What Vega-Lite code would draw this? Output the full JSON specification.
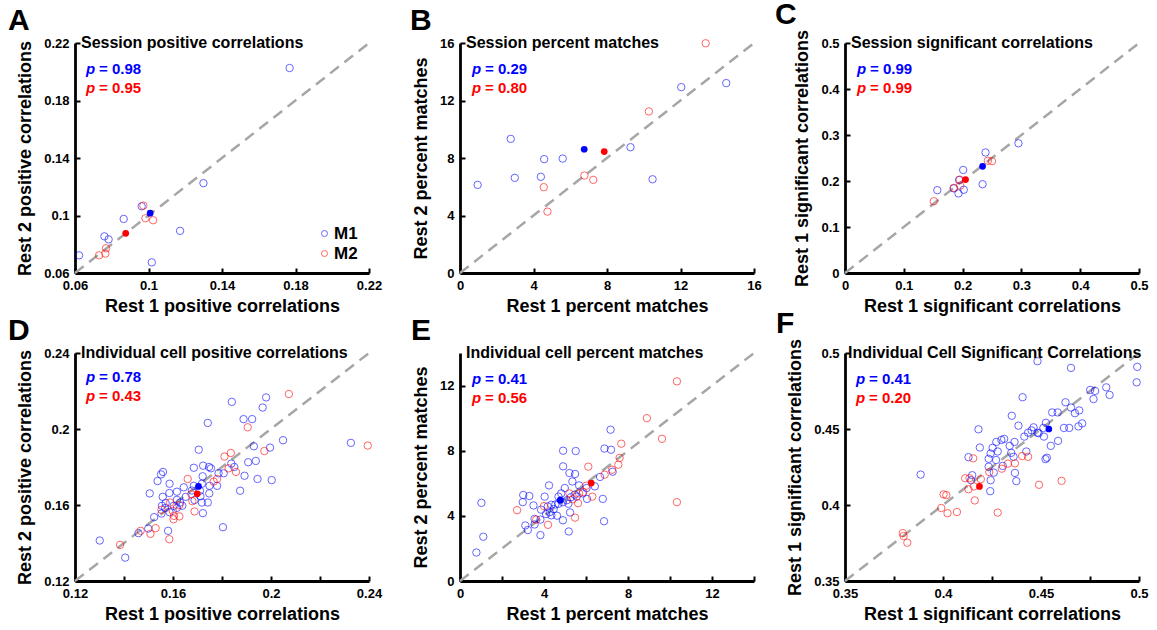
{
"$schema":"https://vega.github.io/schema/vega-lite/v6.json",
"padding":{"left":8,"top":0,"right":0,"bottom":0},
"config":{
 "view":{"stroke":null},
 "font":"Liberation Sans",
 "axis":{"grid":false,"domainColor":"#000","domainWidth":2.8,"tickColor":"#000","tickWidth":2,"tickSize":-5,"labelFont":"Liberation Sans","labelFontSize":13,"labelFontWeight":"bold","labelColor":"#000","labelPadding":11,"labelFlush":false,"labelOverlap":false,"titleFont":"Liberation Sans","titleFontSize":18,"titleFontWeight":"bold","titleColor":"#000"},
 "axisY":{"titlePadding":9},
 "axisX":{"titlePadding":5},
 "title":{"font":"Liberation Sans","fontSize":30,"fontWeight":"bold","color":"#000","anchor":"start","frame":"group","offset":-1}
},
"resolve":{"scale":{"color":"independent"},"legend":{"color":"independent"}},
"bounds":"flush",
"spacing":{"row":80,"column":91},
"columns":3,
"datasets":{
"A":[
{"monkey":"M1","kind":"cell","rest1":0.1768,"rest2":0.2026},
{"monkey":"M1","kind":"cell","rest1":0.1299,"rest2":0.1225},
{"monkey":"M1","kind":"cell","rest1":0.0963,"rest2":0.1064},
{"monkey":"M1","kind":"cell","rest1":0.0865,"rest2":0.0976},
{"monkey":"M1","kind":"cell","rest1":0.1172,"rest2":0.0893},
{"monkey":"M1","kind":"cell","rest1":0.076,"rest2":0.0855},
{"monkey":"M1","kind":"cell","rest1":0.0783,"rest2":0.0834},
{"monkey":"M1","kind":"cell","rest1":0.0622,"rest2":0.0723},
{"monkey":"M1","kind":"cell","rest1":0.1018,"rest2":0.0674},
{"monkey":"M2","kind":"cell","rest1":0.0972,"rest2":0.1069},
{"monkey":"M2","kind":"cell","rest1":0.0983,"rest2":0.0981},
{"monkey":"M2","kind":"cell","rest1":0.1025,"rest2":0.0967},
{"monkey":"M2","kind":"cell","rest1":0.0769,"rest2":0.0772},
{"monkey":"M2","kind":"cell","rest1":0.0765,"rest2":0.0735},
{"monkey":"M2","kind":"cell","rest1":0.0731,"rest2":0.0723},
{"monkey":"M1","kind":"mean","rest1":0.1009,"rest2":0.1016},
{"monkey":"M2","kind":"mean","rest1":0.0876,"rest2":0.0876}],
"B":[
{"monkey":"M1","kind":"cell","rest1":14.49,"rest2":13.21},
{"monkey":"M1","kind":"cell","rest1":12.04,"rest2":12.93},
{"monkey":"M1","kind":"cell","rest1":9.28,"rest2":8.75},
{"monkey":"M1","kind":"cell","rest1":2.76,"rest2":9.33},
{"monkey":"M1","kind":"cell","rest1":4.58,"rest2":7.92},
{"monkey":"M1","kind":"cell","rest1":5.59,"rest2":7.96},
{"monkey":"M1","kind":"cell","rest1":2.98,"rest2":6.62},
{"monkey":"M1","kind":"cell","rest1":4.40,"rest2":6.69},
{"monkey":"M1","kind":"cell","rest1":0.96,"rest2":6.13},
{"monkey":"M1","kind":"cell","rest1":10.48,"rest2":6.52},
{"monkey":"M2","kind":"cell","rest1":13.37,"rest2":15.98},
{"monkey":"M2","kind":"cell","rest1":10.28,"rest2":11.24},
{"monkey":"M2","kind":"cell","rest1":6.77,"rest2":6.78},
{"monkey":"M2","kind":"cell","rest1":7.25,"rest2":6.48},
{"monkey":"M2","kind":"cell","rest1":4.56,"rest2":5.97},
{"monkey":"M2","kind":"cell","rest1":4.76,"rest2":4.27},
{"monkey":"M1","kind":"mean","rest1":6.76,"rest2":8.61},
{"monkey":"M2","kind":"mean","rest1":7.85,"rest2":8.45}],
"C":[
{"monkey":"M1","kind":"cell","rest1":0.295,"rest2":0.282},
{"monkey":"M1","kind":"cell","rest1":0.239,"rest2":0.262},
{"monkey":"M1","kind":"cell","rest1":0.201,"rest2":0.224},
{"monkey":"M1","kind":"cell","rest1":0.234,"rest2":0.193},
{"monkey":"M1","kind":"cell","rest1":0.194,"rest2":0.202},
{"monkey":"M1","kind":"cell","rest1":0.202,"rest2":0.181},
{"monkey":"M1","kind":"cell","rest1":0.193,"rest2":0.173},
{"monkey":"M1","kind":"cell","rest1":0.157,"rest2":0.180},
{"monkey":"M1","kind":"cell","rest1":0.185,"rest2":0.184},
{"monkey":"M2","kind":"cell","rest1":0.243,"rest2":0.244},
{"monkey":"M2","kind":"cell","rest1":0.250,"rest2":0.243},
{"monkey":"M2","kind":"cell","rest1":0.195,"rest2":0.203},
{"monkey":"M2","kind":"cell","rest1":0.196,"rest2":0.190},
{"monkey":"M2","kind":"cell","rest1":0.185,"rest2":0.185},
{"monkey":"M2","kind":"cell","rest1":0.151,"rest2":0.156},
{"monkey":"M1","kind":"mean","rest1":0.234,"rest2":0.232},
{"monkey":"M2","kind":"mean","rest1":0.205,"rest2":0.203}],
"D":[
{"monkey":"M1","kind":"cell","rest1":0.184,"rest2":0.2143},
{"monkey":"M1","kind":"cell","rest1":0.198,"rest2":0.2166},
{"monkey":"M1","kind":"cell","rest1":0.1966,"rest2":0.2113},
{"monkey":"M1","kind":"cell","rest1":0.1888,"rest2":0.2052},
{"monkey":"M1","kind":"cell","rest1":0.1923,"rest2":0.2052},
{"monkey":"M1","kind":"cell","rest1":0.1742,"rest2":0.2032},
{"monkey":"M1","kind":"cell","rest1":0.2049,"rest2":0.1941},
{"monkey":"M1","kind":"cell","rest1":0.1996,"rest2":0.1902},
{"monkey":"M1","kind":"cell","rest1":0.193,"rest2":0.1909},
{"monkey":"M1","kind":"cell","rest1":0.2326,"rest2":0.1927},
{"monkey":"M1","kind":"cell","rest1":0.1705,"rest2":0.1891},
{"monkey":"M1","kind":"cell","rest1":0.1907,"rest2":0.1825},
{"monkey":"M1","kind":"cell","rest1":0.1938,"rest2":0.1832},
{"monkey":"M1","kind":"cell","rest1":0.1838,"rest2":0.1818},
{"monkey":"M1","kind":"cell","rest1":0.185,"rest2":0.18},
{"monkey":"M1","kind":"cell","rest1":0.1723,"rest2":0.1807},
{"monkey":"M1","kind":"cell","rest1":0.1747,"rest2":0.18},
{"monkey":"M1","kind":"cell","rest1":0.1755,"rest2":0.1793},
{"monkey":"M1","kind":"cell","rest1":0.1685,"rest2":0.1796},
{"monkey":"M1","kind":"cell","rest1":0.1807,"rest2":0.1767},
{"monkey":"M1","kind":"cell","rest1":0.1786,"rest2":0.1767},
{"monkey":"M1","kind":"cell","rest1":0.1892,"rest2":0.1754},
{"monkey":"M1","kind":"cell","rest1":0.1945,"rest2":0.1737},
{"monkey":"M1","kind":"cell","rest1":0.2003,"rest2":0.1731},
{"monkey":"M1","kind":"cell","rest1":0.1551,"rest2":0.1761},
{"monkey":"M1","kind":"cell","rest1":0.1559,"rest2":0.1774},
{"monkey":"M1","kind":"cell","rest1":0.1537,"rest2":0.1726},
{"monkey":"M1","kind":"cell","rest1":0.1586,"rest2":0.1712},
{"monkey":"M1","kind":"cell","rest1":0.1505,"rest2":0.1661},
{"monkey":"M1","kind":"cell","rest1":0.1558,"rest2":0.1643},
{"monkey":"M1","kind":"cell","rest1":0.1585,"rest2":0.1663},
{"monkey":"M1","kind":"cell","rest1":0.1644,"rest2":0.1693},
{"monkey":"M1","kind":"cell","rest1":0.1685,"rest2":0.1701},
{"monkey":"M1","kind":"cell","rest1":0.1718,"rest2":0.1712},
{"monkey":"M1","kind":"cell","rest1":0.1721,"rest2":0.1751},
{"monkey":"M1","kind":"cell","rest1":0.1749,"rest2":0.1701},
{"monkey":"M1","kind":"cell","rest1":0.178,"rest2":0.1701},
{"monkey":"M1","kind":"cell","rest1":0.1748,"rest2":0.1661},
{"monkey":"M1","kind":"cell","rest1":0.171,"rest2":0.1675},
{"monkey":"M1","kind":"cell","rest1":0.1874,"rest2":0.1675},
{"monkey":"M1","kind":"cell","rest1":0.1616,"rest2":0.167},
{"monkey":"M1","kind":"cell","rest1":0.1652,"rest2":0.1643},
{"monkey":"M1","kind":"cell","rest1":0.1688,"rest2":0.1626},
{"monkey":"M1","kind":"cell","rest1":0.1718,"rest2":0.1613},
{"monkey":"M1","kind":"cell","rest1":0.1742,"rest2":0.1613},
{"monkey":"M1","kind":"cell","rest1":0.1616,"rest2":0.1627},
{"monkey":"M1","kind":"cell","rest1":0.1555,"rest2":0.1596},
{"monkey":"M1","kind":"cell","rest1":0.1568,"rest2":0.1584},
{"monkey":"M1","kind":"cell","rest1":0.1603,"rest2":0.1596},
{"monkey":"M1","kind":"cell","rest1":0.1638,"rest2":0.1596},
{"monkey":"M1","kind":"cell","rest1":0.1629,"rest2":0.1613},
{"monkey":"M1","kind":"cell","rest1":0.1586,"rest2":0.1562},
{"monkey":"M1","kind":"cell","rest1":0.1553,"rest2":0.1555},
{"monkey":"M1","kind":"cell","rest1":0.1523,"rest2":0.1536},
{"monkey":"M1","kind":"cell","rest1":0.1722,"rest2":0.1557},
{"monkey":"M1","kind":"cell","rest1":0.158,"rest2":0.1464},
{"monkey":"M1","kind":"cell","rest1":0.1804,"rest2":0.1483},
{"monkey":"M1","kind":"cell","rest1":0.1499,"rest2":0.1476},
{"monkey":"M1","kind":"cell","rest1":0.1459,"rest2":0.1452},
{"monkey":"M1","kind":"cell","rest1":0.1301,"rest2":0.1413},
{"monkey":"M1","kind":"cell","rest1":0.1405,"rest2":0.1323},
{"monkey":"M1","kind":"cell","rest1":0.157,"rest2":0.161},
{"monkey":"M1","kind":"cell","rest1":0.1616,"rest2":0.1585},
{"monkey":"M1","kind":"cell","rest1":0.1677,"rest2":0.1676},
{"monkey":"M1","kind":"cell","rest1":0.1712,"rest2":0.1646},
{"monkey":"M2","kind":"cell","rest1":0.2073,"rest2":0.2184},
{"monkey":"M2","kind":"cell","rest1":0.1905,"rest2":0.2009},
{"monkey":"M2","kind":"cell","rest1":0.2395,"rest2":0.1913},
{"monkey":"M2","kind":"cell","rest1":0.1973,"rest2":0.1884},
{"monkey":"M2","kind":"cell","rest1":0.1836,"rest2":0.1874},
{"monkey":"M2","kind":"cell","rest1":0.181,"rest2":0.1855},
{"monkey":"M2","kind":"cell","rest1":0.1827,"rest2":0.1793},
{"monkey":"M2","kind":"cell","rest1":0.1857,"rest2":0.1774},
{"monkey":"M2","kind":"cell","rest1":0.178,"rest2":0.1737},
{"monkey":"M2","kind":"cell","rest1":0.1766,"rest2":0.1723},
{"monkey":"M2","kind":"cell","rest1":0.166,"rest2":0.1737},
{"monkey":"M2","kind":"cell","rest1":0.1679,"rest2":0.162},
{"monkey":"M2","kind":"cell","rest1":0.1688,"rest2":0.1566},
{"monkey":"M2","kind":"cell","rest1":0.1599,"rest2":0.1569},
{"monkey":"M2","kind":"cell","rest1":0.1604,"rest2":0.1543},
{"monkey":"M2","kind":"cell","rest1":0.1626,"rest2":0.154},
{"monkey":"M2","kind":"cell","rest1":0.1602,"rest2":0.1525},
{"monkey":"M2","kind":"cell","rest1":0.1588,"rest2":0.1613},
{"monkey":"M2","kind":"cell","rest1":0.1626,"rest2":0.1599},
{"monkey":"M2","kind":"cell","rest1":0.1529,"rest2":0.1478},
{"monkey":"M2","kind":"cell","rest1":0.1508,"rest2":0.1448},
{"monkey":"M2","kind":"cell","rest1":0.1468,"rest2":0.1464},
{"monkey":"M2","kind":"cell","rest1":0.1585,"rest2":0.142},
{"monkey":"M2","kind":"cell","rest1":0.1384,"rest2":0.139},
{"monkey":"M2","kind":"cell","rest1":0.1553,"rest2":0.1575},
{"monkey":"M2","kind":"cell","rest1":0.1675,"rest2":0.1657},
{"monkey":"M1","kind":"mean","rest1":0.1704,"rest2":0.1698},
{"monkey":"M2","kind":"mean","rest1":0.1699,"rest2":0.1659}],
"E":[
{"monkey":"M1","kind":"cell","rest1":7.17,"rest2":9.29},
{"monkey":"M1","kind":"cell","rest1":6.88,"rest2":8.13},
{"monkey":"M1","kind":"cell","rest1":7.19,"rest2":8.06},
{"monkey":"M1","kind":"cell","rest1":4.91,"rest2":8.0},
{"monkey":"M1","kind":"cell","rest1":5.51,"rest2":7.98},
{"monkey":"M1","kind":"cell","rest1":4.91,"rest2":7.04},
{"monkey":"M1","kind":"cell","rest1":5.21,"rest2":6.63},
{"monkey":"M1","kind":"cell","rest1":5.48,"rest2":6.57},
{"monkey":"M1","kind":"cell","rest1":7.27,"rest2":6.71},
{"monkey":"M1","kind":"cell","rest1":6.67,"rest2":6.39},
{"monkey":"M1","kind":"cell","rest1":4.24,"rest2":5.87},
{"monkey":"M1","kind":"cell","rest1":5.35,"rest2":6.11},
{"monkey":"M1","kind":"cell","rest1":4.99,"rest2":5.71},
{"monkey":"M1","kind":"cell","rest1":6.42,"rest2":5.81},
{"monkey":"M1","kind":"cell","rest1":3.01,"rest2":5.28},
{"monkey":"M1","kind":"cell","rest1":3.30,"rest2":5.22},
{"monkey":"M1","kind":"cell","rest1":2.99,"rest2":4.84},
{"monkey":"M1","kind":"cell","rest1":1.02,"rest2":4.80},
{"monkey":"M1","kind":"cell","rest1":3.50,"rest2":4.64},
{"monkey":"M1","kind":"cell","rest1":4.03,"rest2":5.18},
{"monkey":"M1","kind":"cell","rest1":4.69,"rest2":5.18},
{"monkey":"M1","kind":"cell","rest1":6.80,"rest2":5.04},
{"monkey":"M1","kind":"cell","rest1":3.86,"rest2":4.38},
{"monkey":"M1","kind":"cell","rest1":4.18,"rest2":4.58},
{"monkey":"M1","kind":"cell","rest1":4.46,"rest2":4.42},
{"monkey":"M1","kind":"cell","rest1":4.69,"rest2":4.74},
{"monkey":"M1","kind":"cell","rest1":4.90,"rest2":4.84},
{"monkey":"M1","kind":"cell","rest1":5.09,"rest2":4.96},
{"monkey":"M1","kind":"cell","rest1":5.27,"rest2":5.14},
{"monkey":"M1","kind":"cell","rest1":5.56,"rest2":5.18},
{"monkey":"M1","kind":"cell","rest1":5.84,"rest2":5.38},
{"monkey":"M1","kind":"cell","rest1":6.03,"rest2":5.71},
{"monkey":"M1","kind":"cell","rest1":5.67,"rest2":5.87},
{"monkey":"M1","kind":"cell","rest1":5.16,"rest2":4.74},
{"monkey":"M1","kind":"cell","rest1":5.24,"rest2":4.21},
{"monkey":"M1","kind":"cell","rest1":4.90,"rest2":3.73},
{"monkey":"M1","kind":"cell","rest1":4.10,"rest2":4.11},
{"monkey":"M1","kind":"cell","rest1":4.35,"rest2":4.03},
{"monkey":"M1","kind":"cell","rest1":4.62,"rest2":4.01},
{"monkey":"M1","kind":"cell","rest1":3.83,"rest2":3.77},
{"monkey":"M1","kind":"cell","rest1":3.55,"rest2":3.81},
{"monkey":"M1","kind":"cell","rest1":3.11,"rest2":3.41},
{"monkey":"M1","kind":"cell","rest1":3.23,"rest2":3.13},
{"monkey":"M1","kind":"cell","rest1":3.55,"rest2":3.47},
{"monkey":"M1","kind":"cell","rest1":3.83,"rest2":2.82},
{"monkey":"M1","kind":"cell","rest1":5.18,"rest2":3.04},
{"monkey":"M1","kind":"cell","rest1":6.86,"rest2":3.67},
{"monkey":"M1","kind":"cell","rest1":1.11,"rest2":2.72},
{"monkey":"M1","kind":"cell","rest1":0.78,"rest2":1.75},
{"monkey":"M1","kind":"cell","rest1":4.35,"rest2":4.68},
{"monkey":"M1","kind":"cell","rest1":5.46,"rest2":5.30},
{"monkey":"M1","kind":"cell","rest1":4.82,"rest2":5.38},
{"monkey":"M1","kind":"cell","rest1":4.54,"rest2":4.70},
{"monkey":"M1","kind":"cell","rest1":6.05,"rest2":5.04},
{"monkey":"M1","kind":"cell","rest1":4.27,"rest2":4.23},
{"monkey":"M2","kind":"cell","rest1":10.33,"rest2":12.26},
{"monkey":"M2","kind":"cell","rest1":8.90,"rest2":10.0},
{"monkey":"M2","kind":"cell","rest1":9.62,"rest2":8.73},
{"monkey":"M2","kind":"cell","rest1":7.68,"rest2":8.43},
{"monkey":"M2","kind":"cell","rest1":7.60,"rest2":7.56},
{"monkey":"M2","kind":"cell","rest1":7.54,"rest2":7.14},
{"monkey":"M2","kind":"cell","rest1":7.24,"rest2":6.83},
{"monkey":"M2","kind":"cell","rest1":6.89,"rest2":6.53},
{"monkey":"M2","kind":"cell","rest1":6.11,"rest2":7.02},
{"monkey":"M2","kind":"cell","rest1":6.30,"rest2":5.18},
{"monkey":"M2","kind":"cell","rest1":6.01,"rest2":5.85},
{"monkey":"M2","kind":"cell","rest1":5.67,"rest2":5.38},
{"monkey":"M2","kind":"cell","rest1":5.62,"rest2":4.78},
{"monkey":"M2","kind":"cell","rest1":5.37,"rest2":5.02},
{"monkey":"M2","kind":"cell","rest1":5.21,"rest2":5.38},
{"monkey":"M2","kind":"cell","rest1":4.00,"rest2":4.60},
{"monkey":"M2","kind":"cell","rest1":2.72,"rest2":4.35},
{"monkey":"M2","kind":"cell","rest1":4.19,"rest2":3.45},
{"monkey":"M2","kind":"cell","rest1":5.48,"rest2":3.89},
{"monkey":"M2","kind":"cell","rest1":10.33,"rest2":4.84},
{"monkey":"M2","kind":"cell","rest1":3.63,"rest2":3.77},
{"monkey":"M2","kind":"cell","rest1":5.87,"rest2":5.46},
{"monkey":"M1","kind":"mean","rest1":4.77,"rest2":4.96},
{"monkey":"M2","kind":"mean","rest1":6.25,"rest2":6.01}],
"F":[
{"monkey":"M1","kind":"cell","rest1":0.4482,"rest2":0.4946},
{"monkey":"M1","kind":"cell","rest1":0.4653,"rest2":0.4902},
{"monkey":"M1","kind":"cell","rest1":0.4991,"rest2":0.4909},
{"monkey":"M1","kind":"cell","rest1":0.4988,"rest2":0.4807},
{"monkey":"M1","kind":"cell","rest1":0.4751,"rest2":0.4757},
{"monkey":"M1","kind":"cell","rest1":0.4776,"rest2":0.475},
{"monkey":"M1","kind":"cell","rest1":0.4833,"rest2":0.4774},
{"monkey":"M1","kind":"cell","rest1":0.485,"rest2":0.4724},
{"monkey":"M1","kind":"cell","rest1":0.4768,"rest2":0.4697},
{"monkey":"M1","kind":"cell","rest1":0.4406,"rest2":0.4709},
{"monkey":"M1","kind":"cell","rest1":0.4625,"rest2":0.4676},
{"monkey":"M1","kind":"cell","rest1":0.4653,"rest2":0.4641},
{"monkey":"M1","kind":"cell","rest1":0.4557,"rest2":0.4609},
{"monkey":"M1","kind":"cell","rest1":0.4585,"rest2":0.4609},
{"monkey":"M1","kind":"cell","rest1":0.4695,"rest2":0.4622},
{"monkey":"M1","kind":"cell","rest1":0.4673,"rest2":0.4604},
{"monkey":"M1","kind":"cell","rest1":0.471,"rest2":0.4537},
{"monkey":"M1","kind":"cell","rest1":0.4691,"rest2":0.4517},
{"monkey":"M1","kind":"cell","rest1":0.4617,"rest2":0.4507},
{"monkey":"M1","kind":"cell","rest1":0.4644,"rest2":0.4507},
{"monkey":"M1","kind":"cell","rest1":0.4351,"rest2":0.4587},
{"monkey":"M1","kind":"cell","rest1":0.4385,"rest2":0.4522},
{"monkey":"M1","kind":"cell","rest1":0.4181,"rest2":0.4498},
{"monkey":"M1","kind":"cell","rest1":0.4188,"rest2":0.4378},
{"monkey":"M1","kind":"cell","rest1":0.4462,"rest2":0.4511},
{"monkey":"M1","kind":"cell","rest1":0.4488,"rest2":0.4472},
{"monkey":"M1","kind":"cell","rest1":0.4525,"rest2":0.4541},
{"monkey":"M1","kind":"cell","rest1":0.4515,"rest2":0.445},
{"monkey":"M1","kind":"cell","rest1":0.4587,"rest2":0.4422},
{"monkey":"M1","kind":"cell","rest1":0.455,"rest2":0.4389},
{"monkey":"M1","kind":"cell","rest1":0.4415,"rest2":0.445},
{"monkey":"M1","kind":"cell","rest1":0.4434,"rest2":0.4476},
{"monkey":"M1","kind":"cell","rest1":0.4365,"rest2":0.4415},
{"monkey":"M1","kind":"cell","rest1":0.434,"rest2":0.4389},
{"monkey":"M1","kind":"cell","rest1":0.4298,"rest2":0.4428},
{"monkey":"M1","kind":"cell","rest1":0.4272,"rest2":0.4415},
{"monkey":"M1","kind":"cell","rest1":0.4312,"rest2":0.4435},
{"monkey":"M1","kind":"cell","rest1":0.4253,"rest2":0.4376},
{"monkey":"M1","kind":"cell","rest1":0.4279,"rest2":0.4352},
{"monkey":"M1","kind":"cell","rest1":0.4243,"rest2":0.4339},
{"monkey":"M1","kind":"cell","rest1":0.4348,"rest2":0.4343},
{"monkey":"M1","kind":"cell","rest1":0.436,"rest2":0.4317},
{"monkey":"M1","kind":"cell","rest1":0.4425,"rest2":0.4352},
{"monkey":"M1","kind":"cell","rest1":0.4523,"rest2":0.4302},
{"monkey":"M1","kind":"cell","rest1":0.453,"rest2":0.4311},
{"monkey":"M1","kind":"cell","rest1":0.4233,"rest2":0.4304},
{"monkey":"M1","kind":"cell","rest1":0.4271,"rest2":0.4296},
{"monkey":"M1","kind":"cell","rest1":0.4233,"rest2":0.4252},
{"monkey":"M1","kind":"cell","rest1":0.4305,"rest2":0.4257},
{"monkey":"M1","kind":"cell","rest1":0.4259,"rest2":0.4213},
{"monkey":"M1","kind":"cell","rest1":0.4367,"rest2":0.4211},
{"monkey":"M1","kind":"cell","rest1":0.4374,"rest2":0.4157},
{"monkey":"M1","kind":"cell","rest1":0.4243,"rest2":0.4163},
{"monkey":"M1","kind":"cell","rest1":0.4241,"rest2":0.4091},
{"monkey":"M1","kind":"cell","rest1":0.4149,"rest2":0.4196},
{"monkey":"M1","kind":"cell","rest1":0.413,"rest2":0.4315},
{"monkey":"M1","kind":"cell","rest1":0.3886,"rest2":0.42},
{"monkey":"M1","kind":"cell","rest1":0.4143,"rest2":0.4163},
{"monkey":"M1","kind":"cell","rest1":0.4482,"rest2":0.4476},
{"monkey":"M1","kind":"cell","rest1":0.4452,"rest2":0.4491},
{"monkey":"M1","kind":"cell","rest1":0.4512,"rest2":0.4507},
{"monkey":"M2","kind":"cell","rest1":0.4154,"rest2":0.4307},
{"monkey":"M2","kind":"cell","rest1":0.4404,"rest2":0.4322},
{"monkey":"M2","kind":"cell","rest1":0.4434,"rest2":0.4317},
{"monkey":"M2","kind":"cell","rest1":0.4331,"rest2":0.4272},
{"monkey":"M2","kind":"cell","rest1":0.4367,"rest2":0.4274},
{"monkey":"M2","kind":"cell","rest1":0.43,"rest2":0.4239},
{"monkey":"M2","kind":"cell","rest1":0.4236,"rest2":0.4217},
{"monkey":"M2","kind":"cell","rest1":0.4113,"rest2":0.4176},
{"monkey":"M2","kind":"cell","rest1":0.4193,"rest2":0.417},
{"monkey":"M2","kind":"cell","rest1":0.413,"rest2":0.4104},
{"monkey":"M2","kind":"cell","rest1":0.4158,"rest2":0.4122},
{"monkey":"M2","kind":"cell","rest1":0.449,"rest2":0.4133},
{"monkey":"M2","kind":"cell","rest1":0.4605,"rest2":0.4159},
{"monkey":"M2","kind":"cell","rest1":0.4003,"rest2":0.407},
{"monkey":"M2","kind":"cell","rest1":0.4017,"rest2":0.4065},
{"monkey":"M2","kind":"cell","rest1":0.4162,"rest2":0.403},
{"monkey":"M2","kind":"cell","rest1":0.3991,"rest2":0.398},
{"monkey":"M2","kind":"cell","rest1":0.4023,"rest2":0.3946},
{"monkey":"M2","kind":"cell","rest1":0.4071,"rest2":0.3954},
{"monkey":"M2","kind":"cell","rest1":0.4279,"rest2":0.395},
{"monkey":"M2","kind":"cell","rest1":0.3795,"rest2":0.3815},
{"monkey":"M2","kind":"cell","rest1":0.3799,"rest2":0.3796},
{"monkey":"M2","kind":"cell","rest1":0.3818,"rest2":0.3752},
{"monkey":"M2","kind":"cell","rest1":0.4135,"rest2":0.4176},
{"monkey":"M1","kind":"mean","rest1":0.454,"rest2":0.45},
{"monkey":"M2","kind":"mean","rest1":0.4186,"rest2":0.4122}]
},
"concat":[
{"width":294,"height":230,"data":{"name":"A"},
 "title":{"text":"A","dx":-67},
 "layer":[
  {"data":{"values":[{}]},"mark":{"type":"rule","strokeDash":[11,7],"strokeWidth":2.5,"color":"#a6a6a6"},
   "encoding":{"x":{"datum":0.06,"type":"quantitative"},"y":{"datum":0.06,"type":"quantitative"},"x2":{"datum":0.22},"y2":{"datum":0.22}}},
  {"transform":[{"filter":"datum.kind==='cell'"}],"mark":{"type":"point","shape":"circle","filled":false,"size":55,"strokeWidth":1,"opacity":0.6},
   "encoding":{
    "x":{"field":"rest1","type":"quantitative","scale":{"domain":[0.06,0.22],"nice":false,"zero":false},"axis":{"title":"Rest 1 positive correlations","values":[0.06,0.08,0.1,0.12,0.14,0.16,0.18,0.2,0.22],"format":"~g","labelExpr":"round((datum.value-0.06)/0.02)%2==0 ? datum.label : ''"}},
    "y":{"field":"rest2","type":"quantitative","scale":{"domain":[0.06,0.22],"nice":false,"zero":false},"axis":{"title":"Rest 2 positive correlations","values":[0.06,0.08,0.1,0.12,0.14,0.16,0.18,0.2,0.22],"format":"~g","labelExpr":"round((datum.value-0.06)/0.02)%2==0 ? datum.label : ''"}},
    "color":{"field":"monkey","type":"nominal","scale":{"domain":["M1","M2"],"range":["#0000ff","#ff0000"]},
      "legend":{"orient":"bottom-right","title":null,"offset":11,"labelFontSize":17,"labelFontWeight":"bold","labelFont":"Liberation Sans","labelColor":"#000","symbolSize":36,"symbolStrokeWidth":1,"symbolOpacity":0.6,"rowPadding":2,"padding":0,"labelOffset":1}}}},
  {"transform":[{"filter":"datum.kind==='mean' && datum.monkey==='M1'"}],"mark":{"type":"point","shape":"circle","filled":true,"size":45,"opacity":1,"color":"#0000ff"},"encoding":{"x":{"field":"rest1","type":"quantitative"},"y":{"field":"rest2","type":"quantitative"}}},
  {"transform":[{"filter":"datum.kind==='mean' && datum.monkey==='M2'"}],"mark":{"type":"point","shape":"circle","filled":true,"size":45,"opacity":1,"color":"#ff0000"},"encoding":{"x":{"field":"rest1","type":"quantitative"},"y":{"field":"rest2","type":"quantitative"}}},
  {"data":{"values":[{}]},"mark":{"type":"text","align":"left","baseline":"middle","dx":6,"fontSize":16,"fontWeight":"bold","color":"#000","text":"Session positive correlations"},"encoding":{"x":{"datum":0.06,"type":"quantitative"},"y":{"datum":0.22,"type":"quantitative"}}},
  {"data":{"values":[{}]},"mark":{"type":"text","align":"left","baseline":"middle","dx":11,"dy":26,"fontSize":15,"fontWeight":"bold","fontStyle":"italic","color":"#0000ff","text":"p"},"encoding":{"x":{"datum":0.06,"type":"quantitative"},"y":{"datum":0.22,"type":"quantitative"}}},
  {"data":{"values":[{}]},"mark":{"type":"text","align":"left","baseline":"middle","dx":24,"dy":26,"fontSize":15,"fontWeight":"bold","color":"#0000ff","text":"= 0.98"},"encoding":{"x":{"datum":0.06,"type":"quantitative"},"y":{"datum":0.22,"type":"quantitative"}}},
  {"data":{"values":[{}]},"mark":{"type":"text","align":"left","baseline":"middle","dx":11,"dy":45,"fontSize":15,"fontWeight":"bold","fontStyle":"italic","color":"#ff0000","text":"p"},"encoding":{"x":{"datum":0.06,"type":"quantitative"},"y":{"datum":0.22,"type":"quantitative"}}},
  {"data":{"values":[{}]},"mark":{"type":"text","align":"left","baseline":"middle","dx":24,"dy":45,"fontSize":15,"fontWeight":"bold","color":"#ff0000","text":"= 0.95"},"encoding":{"x":{"datum":0.06,"type":"quantitative"},"y":{"datum":0.22,"type":"quantitative"}}}
 ]},
{"width":294,"height":230,"data":{"name":"B"},
 "title":{"text":"B","dx":-50},
 "layer":[
  {"data":{"values":[{}]},"mark":{"type":"rule","strokeDash":[11,7],"strokeWidth":2.5,"color":"#a6a6a6"},
   "encoding":{"x":{"datum":0,"type":"quantitative"},"y":{"datum":0,"type":"quantitative"},"x2":{"datum":16},"y2":{"datum":16}}},
  {"transform":[{"filter":"datum.kind==='cell'"}],"mark":{"type":"point","shape":"circle","filled":false,"size":55,"strokeWidth":1,"opacity":0.6},
   "encoding":{
    "x":{"field":"rest1","type":"quantitative","scale":{"domain":[0,16],"nice":false,"zero":false},"axis":{"title":"Rest 1 percent matches","values":[0,2,4,6,8,10,12,14,16],"format":"~g","labelExpr":"datum.value%4==0 ? datum.label : ''"}},
    "y":{"field":"rest2","type":"quantitative","scale":{"domain":[0,16],"nice":false,"zero":false},"axis":{"title":"Rest 2 percent matches","values":[0,2,4,6,8,10,12,14,16],"format":"~g","labelExpr":"datum.value%4==0 ? datum.label : ''"}},
    "color":{"field":"monkey","type":"nominal","scale":{"domain":["M1","M2"],"range":["#0000ff","#ff0000"]},"legend":null}}},
  {"transform":[{"filter":"datum.kind==='mean' && datum.monkey==='M1'"}],"mark":{"type":"point","shape":"circle","filled":true,"size":45,"opacity":1,"color":"#0000ff"},"encoding":{"x":{"field":"rest1","type":"quantitative"},"y":{"field":"rest2","type":"quantitative"}}},
  {"transform":[{"filter":"datum.kind==='mean' && datum.monkey==='M2'"}],"mark":{"type":"point","shape":"circle","filled":true,"size":45,"opacity":1,"color":"#ff0000"},"encoding":{"x":{"field":"rest1","type":"quantitative"},"y":{"field":"rest2","type":"quantitative"}}},
  {"data":{"values":[{}]},"mark":{"type":"text","align":"left","baseline":"middle","dx":6,"fontSize":16,"fontWeight":"bold","color":"#000","text":"Session percent matches"},"encoding":{"x":{"datum":0,"type":"quantitative"},"y":{"datum":16,"type":"quantitative"}}},
  {"data":{"values":[{}]},"mark":{"type":"text","align":"left","baseline":"middle","dx":12,"dy":26,"fontSize":15,"fontWeight":"bold","fontStyle":"italic","color":"#0000ff","text":"p"},"encoding":{"x":{"datum":0,"type":"quantitative"},"y":{"datum":16,"type":"quantitative"}}},
  {"data":{"values":[{}]},"mark":{"type":"text","align":"left","baseline":"middle","dx":25,"dy":26,"fontSize":15,"fontWeight":"bold","color":"#0000ff","text":"= 0.29"},"encoding":{"x":{"datum":0,"type":"quantitative"},"y":{"datum":16,"type":"quantitative"}}},
  {"data":{"values":[{}]},"mark":{"type":"text","align":"left","baseline":"middle","dx":12,"dy":45,"fontSize":15,"fontWeight":"bold","fontStyle":"italic","color":"#ff0000","text":"p"},"encoding":{"x":{"datum":0,"type":"quantitative"},"y":{"datum":16,"type":"quantitative"}}},
  {"data":{"values":[{}]},"mark":{"type":"text","align":"left","baseline":"middle","dx":25,"dy":45,"fontSize":15,"fontWeight":"bold","color":"#ff0000","text":"= 0.80"},"encoding":{"x":{"datum":0,"type":"quantitative"},"y":{"datum":16,"type":"quantitative"}}}
 ]},
{"width":294,"height":230,"data":{"name":"C"},
 "title":{"text":"C","dx":-70},
 "layer":[
  {"data":{"values":[{}]},"mark":{"type":"rule","strokeDash":[11,7],"strokeWidth":2.5,"color":"#a6a6a6"},
   "encoding":{"x":{"datum":0,"type":"quantitative"},"y":{"datum":0,"type":"quantitative"},"x2":{"datum":0.5},"y2":{"datum":0.5}}},
  {"transform":[{"filter":"datum.kind==='cell'"}],"mark":{"type":"point","shape":"circle","filled":false,"size":55,"strokeWidth":1,"opacity":0.6},
   "encoding":{
    "x":{"field":"rest1","type":"quantitative","scale":{"domain":[0,0.5],"nice":false,"zero":false},"axis":{"title":"Rest 1 significant correlations","values":[0,0.05,0.1,0.15,0.2,0.25,0.3,0.35,0.4,0.45,0.5],"format":"~g","labelExpr":"round(datum.value/0.05)%2==0 ? datum.label : ''"}},
    "y":{"field":"rest2","type":"quantitative","scale":{"domain":[0,0.5],"nice":false,"zero":false},"axis":{"title":"Rest 1 significant correlations","values":[0,0.05,0.1,0.15,0.2,0.25,0.3,0.35,0.4,0.45,0.5],"format":"~g","labelExpr":"round(datum.value/0.05)%2==0 ? datum.label : ''"}},
    "color":{"field":"monkey","type":"nominal","scale":{"domain":["M1","M2"],"range":["#0000ff","#ff0000"]},"legend":null}}},
  {"transform":[{"filter":"datum.kind==='mean' && datum.monkey==='M1'"}],"mark":{"type":"point","shape":"circle","filled":true,"size":45,"opacity":1,"color":"#0000ff"},"encoding":{"x":{"field":"rest1","type":"quantitative"},"y":{"field":"rest2","type":"quantitative"}}},
  {"transform":[{"filter":"datum.kind==='mean' && datum.monkey==='M2'"}],"mark":{"type":"point","shape":"circle","filled":true,"size":45,"opacity":1,"color":"#ff0000"},"encoding":{"x":{"field":"rest1","type":"quantitative"},"y":{"field":"rest2","type":"quantitative"}}},
  {"data":{"values":[{}]},"mark":{"type":"text","align":"left","baseline":"middle","dx":6,"fontSize":16,"fontWeight":"bold","color":"#000","text":"Session significant correlations"},"encoding":{"x":{"datum":0,"type":"quantitative"},"y":{"datum":0.5,"type":"quantitative"}}},
  {"data":{"values":[{}]},"mark":{"type":"text","align":"left","baseline":"middle","dx":12,"dy":26,"fontSize":15,"fontWeight":"bold","fontStyle":"italic","color":"#0000ff","text":"p"},"encoding":{"x":{"datum":0,"type":"quantitative"},"y":{"datum":0.5,"type":"quantitative"}}},
  {"data":{"values":[{}]},"mark":{"type":"text","align":"left","baseline":"middle","dx":25,"dy":26,"fontSize":15,"fontWeight":"bold","color":"#0000ff","text":"= 0.99"},"encoding":{"x":{"datum":0,"type":"quantitative"},"y":{"datum":0.5,"type":"quantitative"}}},
  {"data":{"values":[{}]},"mark":{"type":"text","align":"left","baseline":"middle","dx":12,"dy":45,"fontSize":15,"fontWeight":"bold","fontStyle":"italic","color":"#ff0000","text":"p"},"encoding":{"x":{"datum":0,"type":"quantitative"},"y":{"datum":0.5,"type":"quantitative"}}},
  {"data":{"values":[{}]},"mark":{"type":"text","align":"left","baseline":"middle","dx":25,"dy":45,"fontSize":15,"fontWeight":"bold","color":"#ff0000","text":"= 0.99"},"encoding":{"x":{"datum":0,"type":"quantitative"},"y":{"datum":0.5,"type":"quantitative"}}}
 ]},
{"width":294,"height":228,"data":{"name":"D"},
 "title":{"text":"D","dx":-67},
 "layer":[
  {"data":{"values":[{}]},"mark":{"type":"rule","strokeDash":[11,7],"strokeWidth":2.5,"color":"#a6a6a6"},
   "encoding":{"x":{"datum":0.12,"type":"quantitative"},"y":{"datum":0.12,"type":"quantitative"},"x2":{"datum":0.24},"y2":{"datum":0.24}}},
  {"transform":[{"filter":"datum.kind==='cell'"}],"mark":{"type":"point","shape":"circle","filled":false,"size":55,"strokeWidth":1,"opacity":0.6},
   "encoding":{
    "x":{"field":"rest1","type":"quantitative","scale":{"domain":[0.12,0.24],"nice":false,"zero":false},"axis":{"title":"Rest 1 positive correlations","values":[0.12,0.14,0.16,0.18,0.2,0.22,0.24],"format":"~g","labelExpr":"round((datum.value-0.12)/0.02)%2==0 ? datum.label : ''"}},
    "y":{"field":"rest2","type":"quantitative","scale":{"domain":[0.12,0.24],"nice":false,"zero":false},"axis":{"title":"Rest 2 positive correlations","values":[0.12,0.14,0.16,0.18,0.2,0.22,0.24],"format":"~g","labelExpr":"round((datum.value-0.12)/0.02)%2==0 ? datum.label : ''"}},
    "color":{"field":"monkey","type":"nominal","scale":{"domain":["M1","M2"],"range":["#0000ff","#ff0000"]},"legend":null}}},
  {"transform":[{"filter":"datum.kind==='mean' && datum.monkey==='M1'"}],"mark":{"type":"point","shape":"circle","filled":true,"size":45,"opacity":1,"color":"#0000ff"},"encoding":{"x":{"field":"rest1","type":"quantitative"},"y":{"field":"rest2","type":"quantitative"}}},
  {"transform":[{"filter":"datum.kind==='mean' && datum.monkey==='M2'"}],"mark":{"type":"point","shape":"circle","filled":true,"size":45,"opacity":1,"color":"#ff0000"},"encoding":{"x":{"field":"rest1","type":"quantitative"},"y":{"field":"rest2","type":"quantitative"}}},
  {"data":{"values":[{}]},"mark":{"type":"text","align":"left","baseline":"middle","dx":6,"fontSize":16,"fontWeight":"bold","color":"#000","text":"Individual cell positive correlations"},"encoding":{"x":{"datum":0.12,"type":"quantitative"},"y":{"datum":0.24,"type":"quantitative"}}},
  {"data":{"values":[{}]},"mark":{"type":"text","align":"left","baseline":"middle","dx":11,"dy":24,"fontSize":15,"fontWeight":"bold","fontStyle":"italic","color":"#0000ff","text":"p"},"encoding":{"x":{"datum":0.12,"type":"quantitative"},"y":{"datum":0.24,"type":"quantitative"}}},
  {"data":{"values":[{}]},"mark":{"type":"text","align":"left","baseline":"middle","dx":24,"dy":24,"fontSize":15,"fontWeight":"bold","color":"#0000ff","text":"= 0.78"},"encoding":{"x":{"datum":0.12,"type":"quantitative"},"y":{"datum":0.24,"type":"quantitative"}}},
  {"data":{"values":[{}]},"mark":{"type":"text","align":"left","baseline":"middle","dx":11,"dy":43,"fontSize":15,"fontWeight":"bold","fontStyle":"italic","color":"#ff0000","text":"p"},"encoding":{"x":{"datum":0.12,"type":"quantitative"},"y":{"datum":0.24,"type":"quantitative"}}},
  {"data":{"values":[{}]},"mark":{"type":"text","align":"left","baseline":"middle","dx":24,"dy":43,"fontSize":15,"fontWeight":"bold","color":"#ff0000","text":"= 0.43"},"encoding":{"x":{"datum":0.12,"type":"quantitative"},"y":{"datum":0.24,"type":"quantitative"}}}
 ]},
{"width":294,"height":228,"data":{"name":"E"},
 "title":{"text":"E","dx":-49},
 "layer":[
  {"data":{"values":[{}]},"mark":{"type":"rule","strokeDash":[11,7],"strokeWidth":2.5,"color":"#a6a6a6"},
   "encoding":{"x":{"datum":0,"type":"quantitative"},"y":{"datum":0,"type":"quantitative"},"x2":{"datum":14},"y2":{"datum":14}}},
  {"transform":[{"filter":"datum.kind==='cell'"}],"mark":{"type":"point","shape":"circle","filled":false,"size":55,"strokeWidth":1,"opacity":0.6},
   "encoding":{
    "x":{"field":"rest1","type":"quantitative","scale":{"domain":[0,14],"nice":false,"zero":false},"axis":{"title":"Rest 1 percent matches","values":[0,2,4,6,8,10,12,14],"format":"~g","labelExpr":"datum.value%4==0 ? datum.label : ''"}},
    "y":{"field":"rest2","type":"quantitative","scale":{"domain":[0,14],"nice":false,"zero":false},"axis":{"title":"Rest 2 percent matches","values":[0,2,4,6,8,10,12,14],"format":"~g","labelExpr":"datum.value%4==0 ? datum.label : ''"}},
    "color":{"field":"monkey","type":"nominal","scale":{"domain":["M1","M2"],"range":["#0000ff","#ff0000"]},"legend":null}}},
  {"transform":[{"filter":"datum.kind==='mean' && datum.monkey==='M1'"}],"mark":{"type":"point","shape":"circle","filled":true,"size":45,"opacity":1,"color":"#0000ff"},"encoding":{"x":{"field":"rest1","type":"quantitative"},"y":{"field":"rest2","type":"quantitative"}}},
  {"transform":[{"filter":"datum.kind==='mean' && datum.monkey==='M2'"}],"mark":{"type":"point","shape":"circle","filled":true,"size":45,"opacity":1,"color":"#ff0000"},"encoding":{"x":{"field":"rest1","type":"quantitative"},"y":{"field":"rest2","type":"quantitative"}}},
  {"data":{"values":[{}]},"mark":{"type":"text","align":"left","baseline":"middle","dx":6,"fontSize":16,"fontWeight":"bold","color":"#000","text":"Individual cell percent matches"},"encoding":{"x":{"datum":0,"type":"quantitative"},"y":{"datum":14,"type":"quantitative"}}},
  {"data":{"values":[{}]},"mark":{"type":"text","align":"left","baseline":"middle","dx":12,"dy":26,"fontSize":15,"fontWeight":"bold","fontStyle":"italic","color":"#0000ff","text":"p"},"encoding":{"x":{"datum":0,"type":"quantitative"},"y":{"datum":14,"type":"quantitative"}}},
  {"data":{"values":[{}]},"mark":{"type":"text","align":"left","baseline":"middle","dx":25,"dy":26,"fontSize":15,"fontWeight":"bold","color":"#0000ff","text":"= 0.41"},"encoding":{"x":{"datum":0,"type":"quantitative"},"y":{"datum":14,"type":"quantitative"}}},
  {"data":{"values":[{}]},"mark":{"type":"text","align":"left","baseline":"middle","dx":12,"dy":45,"fontSize":15,"fontWeight":"bold","fontStyle":"italic","color":"#ff0000","text":"p"},"encoding":{"x":{"datum":0,"type":"quantitative"},"y":{"datum":14,"type":"quantitative"}}},
  {"data":{"values":[{}]},"mark":{"type":"text","align":"left","baseline":"middle","dx":25,"dy":45,"fontSize":15,"fontWeight":"bold","color":"#ff0000","text":"= 0.56"},"encoding":{"x":{"datum":0,"type":"quantitative"},"y":{"datum":14,"type":"quantitative"}}}
 ]},
{"width":294,"height":228,"data":{"name":"F"},
 "title":{"text":"F","dx":-69},
 "layer":[
  {"data":{"values":[{}]},"mark":{"type":"rule","strokeDash":[11,7],"strokeWidth":2.5,"color":"#a6a6a6"},
   "encoding":{"x":{"datum":0.35,"type":"quantitative"},"y":{"datum":0.35,"type":"quantitative"},"x2":{"datum":0.5},"y2":{"datum":0.5}}},
  {"transform":[{"filter":"datum.kind==='cell'"}],"mark":{"type":"point","shape":"circle","filled":false,"size":55,"strokeWidth":1,"opacity":0.6},
   "encoding":{
    "x":{"field":"rest1","type":"quantitative","scale":{"domain":[0.35,0.5],"nice":false,"zero":false},"axis":{"title":"Rest 1 significant correlations","values":[0.35,0.375,0.4,0.425,0.45,0.475,0.5],"format":"~g","labelExpr":"round((datum.value-0.35)/0.025)%2==0 ? datum.label : ''"}},
    "y":{"field":"rest2","type":"quantitative","scale":{"domain":[0.35,0.5],"nice":false,"zero":false},"axis":{"title":"Rest 1 significant correlations","values":[0.35,0.375,0.4,0.425,0.45,0.475,0.5],"format":"~g","labelExpr":"round((datum.value-0.35)/0.025)%2==0 ? datum.label : ''"}},
    "color":{"field":"monkey","type":"nominal","scale":{"domain":["M1","M2"],"range":["#0000ff","#ff0000"]},"legend":null}}},
  {"transform":[{"filter":"datum.kind==='mean' && datum.monkey==='M1'"}],"mark":{"type":"point","shape":"circle","filled":true,"size":45,"opacity":1,"color":"#0000ff"},"encoding":{"x":{"field":"rest1","type":"quantitative"},"y":{"field":"rest2","type":"quantitative"}}},
  {"transform":[{"filter":"datum.kind==='mean' && datum.monkey==='M2'"}],"mark":{"type":"point","shape":"circle","filled":true,"size":45,"opacity":1,"color":"#ff0000"},"encoding":{"x":{"field":"rest1","type":"quantitative"},"y":{"field":"rest2","type":"quantitative"}}},
  {"data":{"values":[{}]},"mark":{"type":"text","align":"left","baseline":"middle","dx":3,"fontSize":16,"fontWeight":"bold","color":"#000","text":"Individual Cell Significant Correlations"},"encoding":{"x":{"datum":0.35,"type":"quantitative"},"y":{"datum":0.5,"type":"quantitative"}}},
  {"data":{"values":[{}]},"mark":{"type":"text","align":"left","baseline":"middle","dx":11,"dy":26,"fontSize":15,"fontWeight":"bold","fontStyle":"italic","color":"#0000ff","text":"p"},"encoding":{"x":{"datum":0.35,"type":"quantitative"},"y":{"datum":0.5,"type":"quantitative"}}},
  {"data":{"values":[{}]},"mark":{"type":"text","align":"left","baseline":"middle","dx":24,"dy":26,"fontSize":15,"fontWeight":"bold","color":"#0000ff","text":"= 0.41"},"encoding":{"x":{"datum":0.35,"type":"quantitative"},"y":{"datum":0.5,"type":"quantitative"}}},
  {"data":{"values":[{}]},"mark":{"type":"text","align":"left","baseline":"middle","dx":11,"dy":45,"fontSize":15,"fontWeight":"bold","fontStyle":"italic","color":"#ff0000","text":"p"},"encoding":{"x":{"datum":0.35,"type":"quantitative"},"y":{"datum":0.5,"type":"quantitative"}}},
  {"data":{"values":[{}]},"mark":{"type":"text","align":"left","baseline":"middle","dx":24,"dy":45,"fontSize":15,"fontWeight":"bold","color":"#ff0000","text":"= 0.20"},"encoding":{"x":{"datum":0.35,"type":"quantitative"},"y":{"datum":0.5,"type":"quantitative"}}}
 ]}
]
}
